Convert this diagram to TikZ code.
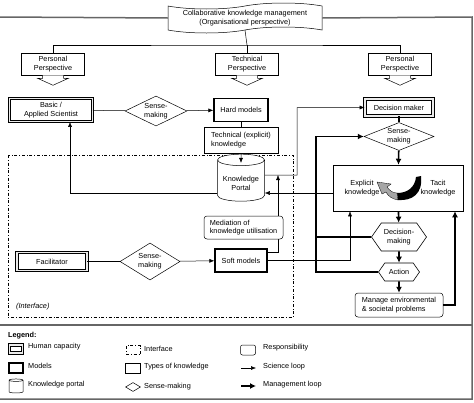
\documentclass[tikz,border=0pt]{standalone}
\usepackage{fontspec}
\setmainfont{Liberation Sans}
\usepackage{tikz}
\usetikzlibrary{positioning}
\usetikzlibrary{arrows.meta}
\usetikzlibrary{shapes.geometric,shapes.symbols}

% block arrow under a perspective box
\newcommand{\persparrow}[1]{%
	\draw[line width=0.5pt, fill=white] ([shift={(-10.5,0)}]#1.south) -- ([shift={(-10.5,3)}]#1.south)
		-- ([shift={(-15.5,3)}]#1.south) -- ([shift={(0,10)}]#1.south) -- ([shift={(15.5,3)}]#1.south)
		-- ([shift={(10.5,3)}]#1.south) -- ([shift={(10.5,0)}]#1.south);}

\begin{document}
\begin{tikzpicture}[
		x=1pt, y=-1pt,
		every node/.style = {
			align=center,
			inner sep=1pt,
			font=\fontsize{7.3}{8.6}\selectfont
		},
		human/.style={draw, line width=0.8pt, double=black!8, double distance=1.6pt, fill=white},
		model/.style={draw, line width=1.3pt, fill=white},
		ktype/.style={draw, line width=0.5pt, fill=white},
		resp/.style={draw, line width=0.5pt, rounded corners=3pt, fill=white},
		sense/.style={diamond, draw, line width=0.5pt, aspect=2, inner sep=0pt, fill=white},
		portal/.style={cylinder, shape border rotate=90, draw, line width=0.5pt, aspect=0.3, fill=white},
		hexa/.style={signal, signal to=west and east, signal pointer angle=110, draw, line width=0.6pt, fill=white},
		persp/.style={draw, line width=0.5pt, fill=white, minimum width=63pt, minimum height=22pt},
		banner/.style={tape, draw, line width=0.5pt, fill=white, tape bend height=6pt,
			minimum width=154pt, minimum height=30pt},
		outerframe/.style={draw=black!60, line width=1.5pt},
		thinline/.style={line width=0.5pt},
		sciarrow/.style={line width=0.5pt, -{Latex[length=5pt, width=4pt]}},
		mgmtline/.style={line width=1.6pt},
		mgmtarrow/.style={line width=1.6pt, -{Latex[length=6pt, width=6pt]}}
		]
		\useasboundingbox (0,0) rectangle (474,402);
		% frame round the whole figure
		\node[banner] (banner) at (245,18) {Collaborative knowledge management \\ (Organisational perspective)};
		\draw[outerframe] (0,17) -- (banner.west);
		\draw[outerframe] (banner.east) -- (472,17) -- (472,399) -- (0,399);
		\draw[outerframe] (0,325) -- (472,325);
		% perspectives
		\node[persp] (perspL) at (53,64) {Personal \\ Perspective};
		\node[persp] (perspT) at (247,64) {Technical \\ Perspective};
		\node[persp] (perspR) at (400,64) {Personal \\ Perspective};
		\persparrow{perspL}
		\persparrow{perspT}
		\persparrow{perspR}
		\coordinate (bus) at (247,45);
		\draw[thinline] (banner.south) -- (bus);
		\draw[thinline] (perspL.north) |- (bus) -| (perspR.north);
		\draw[thinline] (bus) -- (perspT.north);
		% interface
		\draw[thinline, dash dot] (8,155) rectangle (293,317);
		\node[anchor=west] (iface) at (15,307) {\textit{(Interface)}};
		% science side
		\node[human, minimum width=83pt, minimum height=23pt] (sci) at (51,110) {Basic / \\ Applied Scientist};
		\node[sense, minimum width=62pt, minimum height=30pt] (sm1) at (156,111) {Sense- \\ making};
		\node[model, minimum width=54pt, minimum height=23pt] (hard) at (241,110) {Hard models};
		\node[ktype, align=left, minimum width=74pt, minimum height=26pt] (tech) at (241,140) {Technical (explicit) \\ knowledge};
		\node[portal, minimum width=47pt, minimum height=47pt] (kport) at (241,181.5) {\\ Knowledge \\ Portal};
		\node[human, minimum width=70pt, minimum height=18pt] (fac) at (52,261.5) {Facilitator};
		\node[sense, minimum width=60pt, minimum height=37pt] (sm2) at (150,261.5) {Sense- \\ making};
		\node[model, minimum width=52pt, minimum height=23pt] (soft) at (241,260.5) {Soft models};
		% management side
		\node[human, minimum width=68pt, minimum height=17pt] (dm) at (399,107.5) {Decision maker};
		\node[sense, minimum width=70pt, minimum height=28pt] (sm3) at (399,136.5) {Sense- \\ making};
		\node[ktype, minimum width=130pt, minimum height=46pt] (kbox) at (398,188) {};
		\node (expl) at (362,188) {Explicit \\ knowledge};
		\node (tacit) at (438,188) {Tacit \\ knowledge};
		\node[hexa, minimum width=55pt, minimum height=28pt] (dec) at (399,237) {Decision- \\ making};
		\node[hexa, minimum width=41pt, minimum height=18pt] (act) at (399,272) {Action};
		\node[resp, align=left, minimum width=88pt, minimum height=24pt] (manage) at (399,305) {Manage environmental \\ \& societal problems};
		% swoosh between the two kinds of knowledge
		\fill[black] (421,176) .. controls (423,194) and (412,201) .. (398,200) -- (397,193)
			.. controls (408,193) and (415,187) .. (416,177) -- cycle;
		\filldraw[fill=black!35, draw=black, line width=0.3pt] (398,200) .. controls (392,199) and (388,196) .. (386,192)
			-- (382,194) -- (377,182) -- (391,184) -- (387,187) .. controls (390,191) and (393,193) .. (397,193) -- cycle;
		% science loop
		\draw[thinline] (sci) -- (sm1);
		\draw[sciarrow] (sm1) -- (hard);
		\draw[thinline] (hard) -- (tech);
		\draw[sciarrow] (tech) -- ([yshift=-9pt]kport.north);
		\draw[sciarrow] ([yshift=-12pt]kport.west) -| ([xshift=19pt]sci.south);
		\coordinate (jn) at (297,175);
		\draw[sciarrow] ([yshift=6.5pt]kport.east) -- (jn) |- (dm.west);
		\draw[sciarrow] ([yshift=-5pt]kbox.west) -- ([yshift=-5pt]kbox.west -| kport.east);
		\draw[thinline] (fac) -- (sm2);
		\draw[sciarrow] (sm2) -- (soft);
		\draw[sciarrow] ([yshift=8pt]soft.east) -| ([xshift=-19pt]jn);
		\draw[sciarrow] (soft.east) -| ([xshift=-48pt]kbox.south);
		\node[resp, align=left, minimum width=79pt, minimum height=23pt] (medi) at (243.5,227.5) {Mediation of \\ knowledge utilisation};
		% management loop
		\coordinate (loop) at (316,0);
		\draw[mgmtline] (dm) -- (sm3);
		\draw[mgmtarrow] (sm3) -- (kbox);
		\draw[mgmtarrow] (kbox) -- (dec);
		\draw[mgmtarrow] (dec) -- (act);
		\draw[mgmtarrow] (act) -- (manage);
		\draw[mgmtarrow] (manage.east) -| ([xshift=57pt]kbox.south);
		\draw[mgmtarrow] (act.west) -| (loop |- sm3.west) -- (sm3.west);
		\draw[mgmtline] (dec.west) -- (dec.west -| loop);
		% legend
		\node[anchor=west, font=\fontsize{7.3}{8.6}\selectfont\bfseries] (leg) at (7,336) {Legend:};
		\node[human, minimum width=13pt, minimum height=8pt] (lgHuman) at (16,349) {};
		\node[model, minimum width=14pt, minimum height=10pt] (lgModel) at (16,368) {};
		\node[portal, minimum width=14pt, minimum height=14pt, aspect=1.2] (lgPortal) at (16,387) {};
		\node[anchor=west] at (27,347) {Human capacity};
		\node[anchor=west] at (27,366) {Models};
		\node[anchor=west] at (27,385) {Knowledge portal};
		\node[draw, line width=0.5pt, dash dot, minimum width=14pt, minimum height=9pt] (lgIface) at (133,350) {};
		\node[ktype, minimum width=15pt, minimum height=10pt] (lgType) at (133,368) {};
		\node[sense, minimum width=15pt, minimum height=9pt] (lgSense) at (133,387) {};
		\node[anchor=west] at (143,349) {Interface};
		\node[anchor=west] at (143,367) {Types of knowledge};
		\node[anchor=west] at (143,387) {Sense-making};
		\node[resp, rounded corners=2pt, minimum width=15pt, minimum height=10pt] (lgResp) at (248,350) {};
		\coordinate (lgSciA) at (241,368);
		\coordinate (lgSciB) at (256,368);
		\coordinate (lgMgA) at (241,386);
		\coordinate (lgMgB) at (256,386);
		\draw[sciarrow] (lgSciA) -- (lgSciB);
		\draw[mgmtarrow] (lgMgA) -- (lgMgB);
		\node[anchor=west] at (262,348) {Responsibility};
		\node[anchor=west] at (262,367) {Science loop};
		\node[anchor=west] at (262,385) {Management loop};
	\end{tikzpicture}
\end{document}
